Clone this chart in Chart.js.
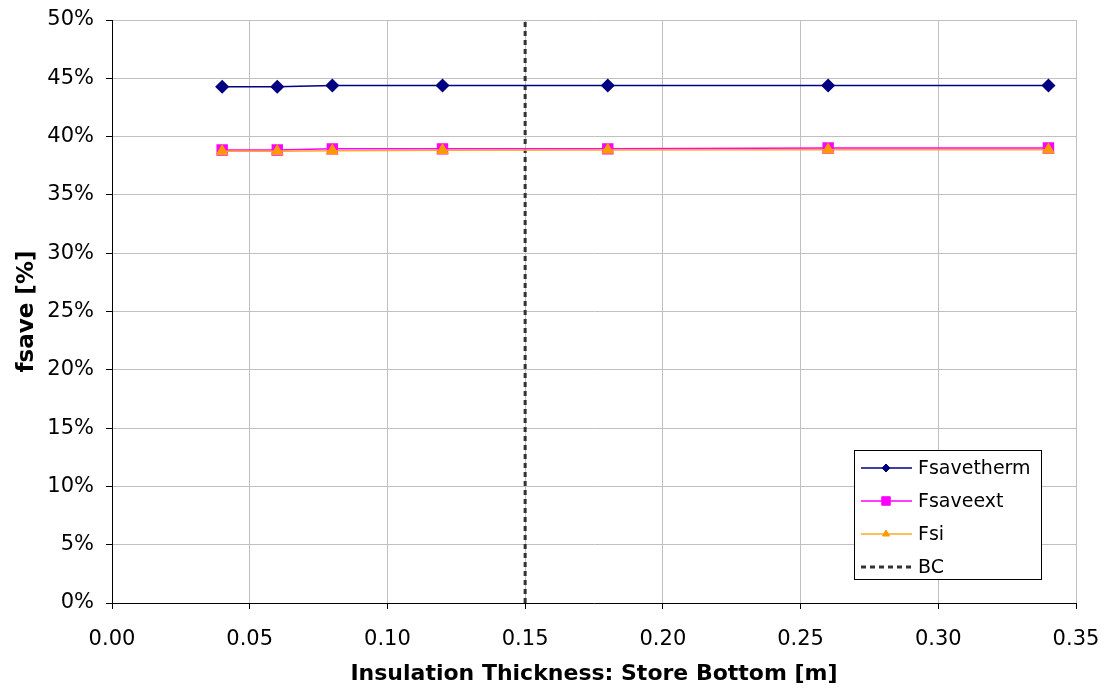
<!DOCTYPE html>
<html>
<head>
<meta charset="utf-8">
<script src="https://cdn.jsdelivr.net/npm/chart.js@4/dist/chart.umd.min.js"></script>
<style>
  html, body { margin: 0; padding: 0; background: #fff; }
  #wrap { width: 1105px; height: 693px; }
</style>
</head>
<body>
<div id="wrap"><canvas id="chart" width="1105" height="693"></canvas></div>
<script>
// insulation thickness of store bottom [m]
const thickness = [0.04, 0.06, 0.08, 0.12, 0.18, 0.26, 0.34];
const fsavetherm = [0.4428, 0.4428, 0.4438, 0.4438, 0.4438, 0.4438, 0.4438];
const fsaveext = [0.3885, 0.3885, 0.3895, 0.3895, 0.3895, 0.3902, 0.3902];
const fsi = [0.3874, 0.3874, 0.3879, 0.3884, 0.3885, 0.3887, 0.3887];
const bcX = [0.15, 0.15];
const bcY = [0, 0.5];
const xTicks = [0, 0.05, 0.1, 0.15, 0.2, 0.25, 0.3, 0.35];
const yTicks = [0, 0.05, 0.1, 0.15, 0.2, 0.25, 0.3, 0.35, 0.4, 0.45, 0.5];

const FONT = "'DejaVu Sans', Verdana, sans-serif";

function pts(xs, ys) { return xs.map((x, i) => ({ x: x, y: ys[i] })); }

// legend drawn inside the plot area, like the original
const boxLegend = {
  id: 'boxLegend',
  afterDraw(chart) {
    const ctx = chart.ctx;
    const x0 = 854, y0 = 450, w = 187, h = 129;
    ctx.save();
    ctx.fillStyle = '#fff';
    ctx.fillRect(x0, y0, w, h);
    ctx.strokeStyle = '#000';
    ctx.lineWidth = 1;
    ctx.strokeRect(x0 + 0.5, y0 + 0.5, w, h);
    ctx.font = '19px ' + FONT;
    ctx.textBaseline = 'middle';
    chart.data.datasets.forEach((ds, i) => {
      const cy = y0 + 18 + i * 33;
      ctx.strokeStyle = ds.borderColor;
      ctx.lineWidth = ds.borderDash ? 3 : 1.5;
      ctx.setLineDash(ds.borderDash || []);
      ctx.beginPath();
      ctx.moveTo(x0 + 7, cy);
      ctx.lineTo(x0 + 58, cy);
      ctx.stroke();
      ctx.setLineDash([]);
      if (ds.pointRadius > 0) {
        ctx.fillStyle = ds.pointBackgroundColor;
        ctx.strokeStyle = ds.pointBorderColor;
        ctx.lineWidth = 1;
        Chart.helpers.drawPoint(ctx, {
          pointStyle: ds.pointStyle, radius: ds.legendRadius, borderWidth: 1
        }, x0 + 32, cy);
      }
      ctx.fillStyle = '#000';
      ctx.fillText(ds.label, x0 + 64, cy + 1);
    });
    ctx.restore();
  }
};

new Chart(document.getElementById('chart'), {
  type: 'scatter',
  data: {
    datasets: [
      {
        label: 'Fsavetherm', data: pts(thickness, fsavetherm), showLine: true, order: 2,
        borderColor: '#000080', borderWidth: 1.5,
        pointStyle: 'rectRot', pointRadius: 6, legendRadius: 4,
        pointBackgroundColor: '#000080', pointBorderColor: '#000080'
      },
      {
        label: 'Fsaveext', data: pts(thickness, fsaveext), showLine: true, order: 1,
        borderColor: '#FF00FF', borderWidth: 1.5,
        pointStyle: 'rect', pointRadius: 7, legendRadius: 6,
        pointBackgroundColor: '#FF00FF', pointBorderColor: '#FF00FF'
      },
      {
        label: 'Fsi', data: pts(thickness, fsi), showLine: true, order: 0,
        borderColor: '#FFA824', borderWidth: 1.5,
        pointStyle: 'triangle', pointRadius: 6, legendRadius: 4,
        pointBackgroundColor: '#FF9900', pointBorderColor: '#FF9900'
      },
      {
        label: 'BC', data: pts(bcX, bcY), showLine: true, order: 3,
        borderColor: '#333333', borderWidth: 3, borderDash: [5, 4],
        pointRadius: 0
      }
    ]
  },
  options: {
    responsive: false, animation: false,
    layout: { padding: { top: 20, right: 29, left: 0, bottom: 0 } },
    plugins: { legend: { display: false }, tooltip: { enabled: false } },
    elements: { line: { tension: 0 } },
    scales: {
      x: {
        type: 'linear', min: 0, max: 0.35,
        afterBuildTicks: s => { s.ticks = xTicks.map(v => ({ value: v })); },
        afterFit: s => { s.height = 90; s.paddingLeft = 0; s.paddingRight = 0; },
        ticks: { color: '#000', font: { family: FONT, size: 21 }, padding: 18,
                 callback: v => v.toFixed(2) },
        grid: { color: '#c0c0c0', tickColor: '#000', tickLength: 6, lineWidth: 1 },
        border: { color: '#000', width: 1 },
        title: { display: true, text: 'Insulation Thickness: Store Bottom [m]', color: '#000',
                 font: { family: FONT, size: 22, weight: 'bold' }, padding: { top: 12, bottom: 6 } }
      },
      y: {
        type: 'linear', min: 0, max: 0.5,
        afterBuildTicks: s => { s.ticks = yTicks.map(v => ({ value: v })); },
        afterFit: s => { s.width = 112; s.paddingTop = 0; s.paddingBottom = 0; },
        ticks: { color: '#000', font: { family: FONT, size: 21 }, padding: 12,
                 callback: v => Math.round(v * 100) + '%' },
        grid: { color: '#c0c0c0', tickColor: '#000', tickLength: 6, lineWidth: 1 },
        border: { color: '#000', width: 1 },
        title: { display: true, text: 'fsave [%]', color: '#000',
                 font: { family: FONT, size: 23, weight: 'bold' }, padding: { top: 13, bottom: 4 } }
      }
    }
  },
  plugins: [boxLegend]
});
</script>
</body>
</html>
